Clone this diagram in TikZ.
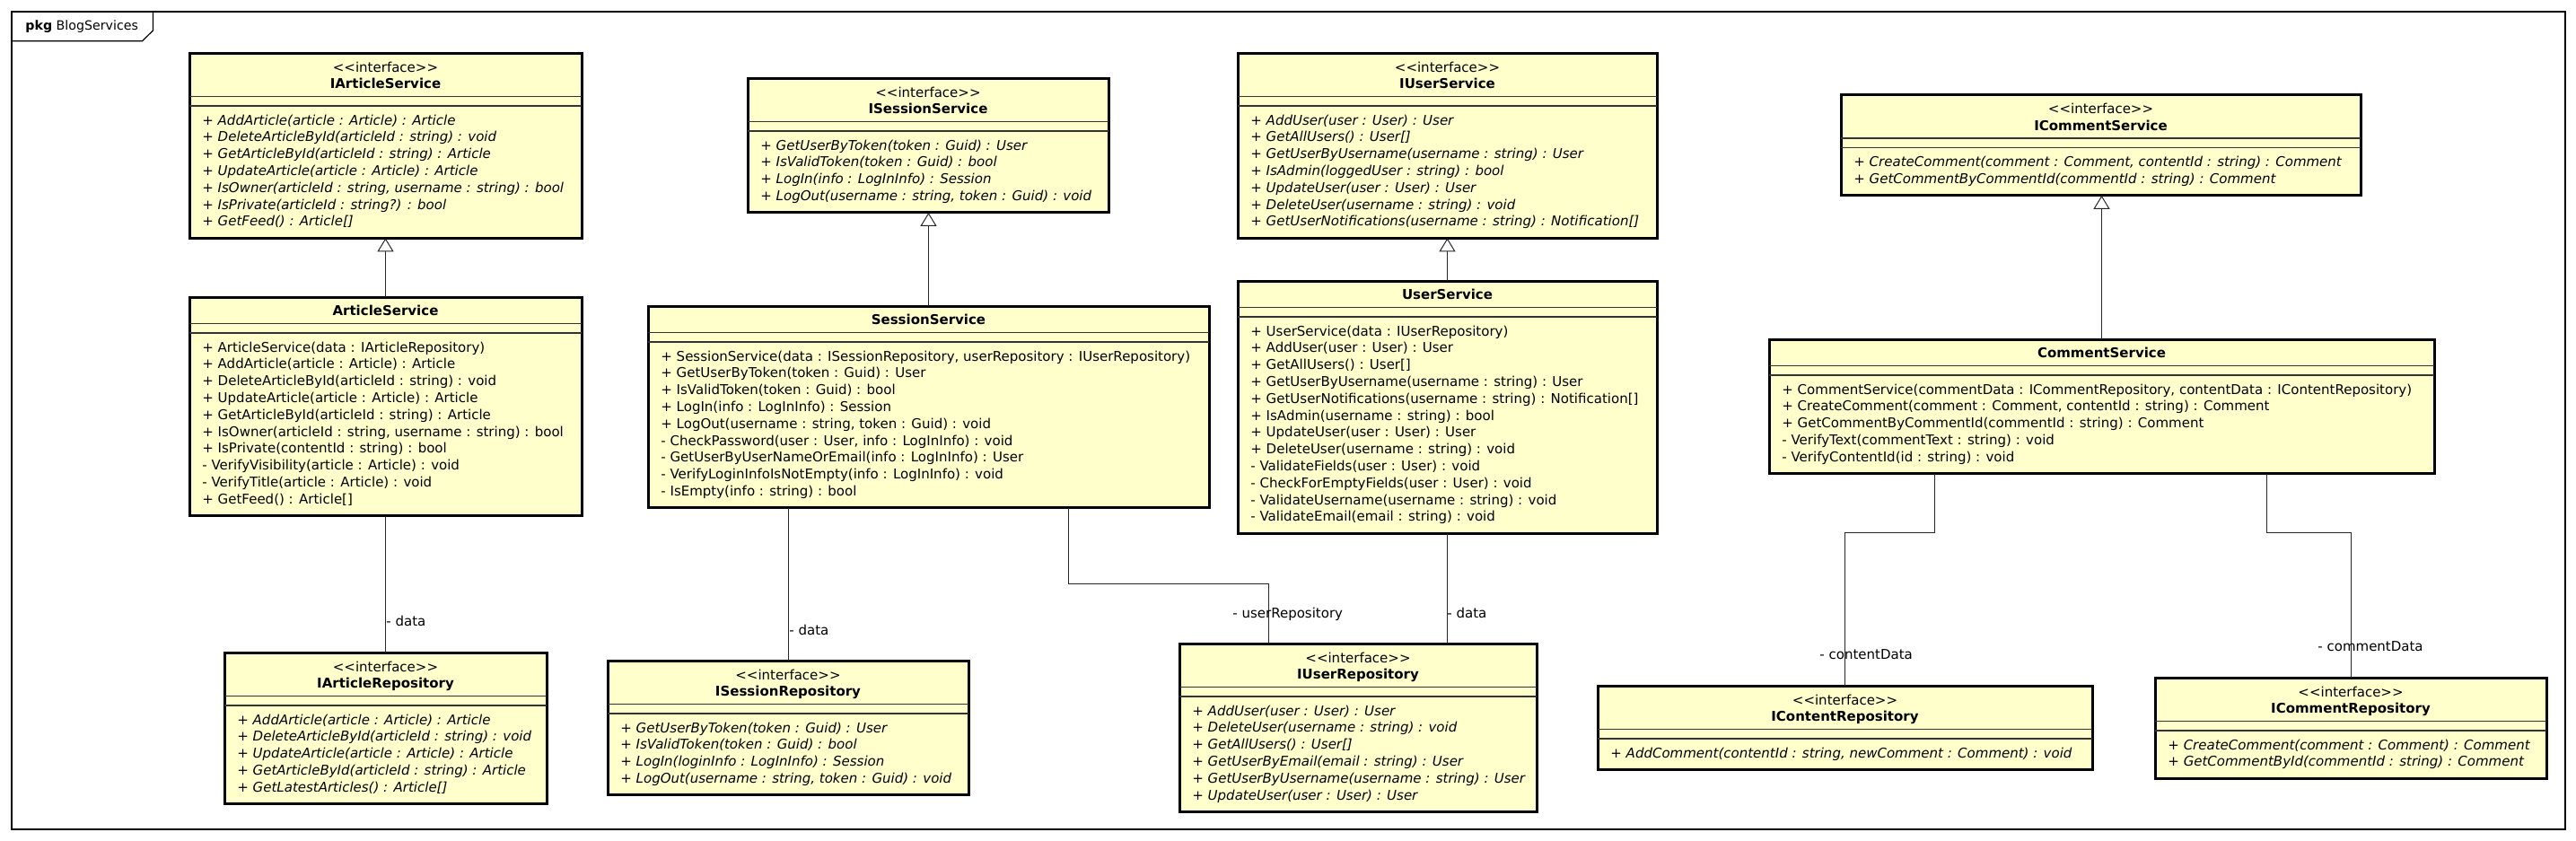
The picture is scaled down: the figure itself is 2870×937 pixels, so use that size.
\documentclass[tikz,border=0pt]{standalone}
\usepackage{fontspec}
\setmainfont{DejaVu Sans}
\usetikzlibrary{arrows.meta,calc}
\definecolor{umlyellow}{RGB}{255,255,204}
\tikzset{
  umlbox/.style={draw=black, line width=1.5pt, fill=umlyellow, inner sep=0pt, outer sep=0pt},
  divider/.style={draw=black!80, line width=0.6pt},
  basefont/.style={font=\fontsize{7.5}{9.4}\selectfont, inner sep=0pt},
  imeth/.style={font=\fontsize{7.5}{9.4}\selectfont\itshape, inner sep=0pt},
  cmeth/.style={basefont},
  stereo/.style={basefont},
  ctitle/.style={font=\fontsize{7.5}{9.4}\selectfont\bfseries, inner sep=0pt},
  lbl/.style={basefont},
  inherit/.style={draw=black!85, line width=0.5pt, -{Triangle[open,length=7.5pt,width=9pt]}},
  assoc/.style={draw=black!85, line width=0.5pt},
  frameline/.style={draw=black, line width=0.6pt}
}
% interface box: name, x1, x2, top, n, title, methods
\newcommand\uiface[7]{%
  \pgfmathsetmacro\bw{(#3-#2)/2}%
  \pgfmathsetmacro\bh{(93.5+(#5-1)*18.8)/2}%
  \node[umlbox, minimum width=\bw pt, minimum height=\bh pt, anchor=north west] (#1) at (#2,#4) {};
  \draw[divider] ([yshift=-24.25pt]#1.north west) -- ([yshift=-24.25pt]#1.north east);
  \draw[divider] ([yshift=-29.5pt]#1.north west) -- ([yshift=-29.5pt]#1.north east);
  \node[stereo, anchor=base] (#1-st) at ([yshift=-10.5pt]#1.north) {<{}<interface>{}>};
  \node[ctitle, anchor=base] (#1-t) at ([yshift=-19.75pt]#1.north) {#6};
  \foreach \mtxt [count=\k] in {#7} {
    \node[imeth, anchor=base west] (#1-m\k) at ([xshift=7pt, yshift={-40pt-(\k-1)*9.4pt}]#1.north west) {\mtxt};
  }
}
% class box: name, x1, x2, top, n, title, methods
\newcommand\uclass[7]{%
  \pgfmathsetmacro\bw{(#3-#2)/2}%
  \pgfmathsetmacro\bh{(74.5+(#5-1)*18.8)/2}%
  \node[umlbox, minimum width=\bw pt, minimum height=\bh pt, anchor=north west] (#1) at (#2,#4) {};
  \draw[divider] ([yshift=-14.75pt]#1.north west) -- ([yshift=-14.75pt]#1.north east);
  \draw[divider] ([yshift=-20pt]#1.north west) -- ([yshift=-20pt]#1.north east);
  \node[ctitle, anchor=base] (#1-t) at ([yshift=-10.25pt]#1.north) {#6};
  \foreach \mtxt [count=\k] in {#7} {
    \node[cmeth, anchor=base west] (#1-m\k) at ([xshift=7pt, yshift={-30.5pt-(\k-1)*9.4pt}]#1.north west) {\mtxt};
  }
}
\begin{document}
\begin{tikzpicture}[x=0.5pt,y=-0.5pt]
\useasboundingbox (0,0) rectangle (2870,937);
% package frame
\node[frameline, draw, inner sep=0pt, outer sep=0pt, minimum width=1422.5pt, minimum height=455.5pt, anchor=north west] (frame) at (13,13) {};
\draw[frameline] ([yshift=-16.35pt]frame.north west) -- ++(145.5,0) -- ++(12,-11.7) -- ++(0,-21);
\node[font=\fontsize{7.1}{9}\selectfont, inner sep=0pt, anchor=west] (pkglbl) at ([xshift=7.5pt, yshift=-8.5pt]frame.north west) {\textbf{pkg} BlogServices};

% Article
\uiface{ias}{211}{648}{59}{7}{IArticleService}{
  {+ AddArticle(article : Article) : Article},
  {+ DeleteArticleById(articleId : string) : void},
  {+ GetArticleById(articleId : string) : Article},
  {+ UpdateArticle(article : Article) : Article},
  {+ IsOwner(articleId : string, username : string) : bool},
  {+ IsPrivate(articleId : string?) : bool},
  {+ GetFeed() : Article[]}}
\uclass{as}{211}{648}{331}{10}{ArticleService}{
  {+ ArticleService(data : IArticleRepository)},
  {+ AddArticle(article : Article) : Article},
  {+ DeleteArticleById(articleId : string) : void},
  {+ UpdateArticle(article : Article) : Article},
  {+ GetArticleById(articleId : string) : Article},
  {+ IsOwner(articleId : string, username : string) : bool},
  {+ IsPrivate(contentId : string) : bool},
  {- VerifyVisibility(article : Article) : void},
  {- VerifyTitle(article : Article) : void},
  {+ GetFeed() : Article[]}}
\uiface{iar}{250}{609}{727}{5}{IArticleRepository}{
  {+ AddArticle(article : Article) : Article},
  {+ DeleteArticleById(articleId : string) : void},
  {+ UpdateArticle(article : Article) : Article},
  {+ GetArticleById(articleId : string) : Article},
  {+ GetLatestArticles() : Article[]}}

% Session
\uiface{iss}{833}{1235}{87}{4}{ISessionService}{
  {+ GetUserByToken(token : Guid) : User},
  {+ IsValidToken(token : Guid) : bool},
  {+ LogIn(info : LogInInfo) : Session},
  {+ LogOut(username : string, token : Guid) : void}}
\uclass{ss}{722}{1347}{341}{9}{SessionService}{
  {+ SessionService(data : ISessionRepository, userRepository : IUserRepository)},
  {+ GetUserByToken(token : Guid) : User},
  {+ IsValidToken(token : Guid) : bool},
  {+ LogIn(info : LogInInfo) : Session},
  {+ LogOut(username : string, token : Guid) : void},
  {- CheckPassword(user : User, info : LogInInfo) : void},
  {- GetUserByUserNameOrEmail(info : LogInInfo) : User},
  {- VerifyLoginInfoIsNotEmpty(info : LogInInfo) : void},
  {- IsEmpty(info : string) : bool}}
\uiface{isr}{677}{1079}{736}{4}{ISessionRepository}{
  {+ GetUserByToken(token : Guid) : User},
  {+ IsValidToken(token : Guid) : bool},
  {+ LogIn(loginInfo : LogInInfo) : Session},
  {+ LogOut(username : string, token : Guid) : void}}

% User
\uiface{ius}{1379}{1846}{59}{7}{IUserService}{
  {+ AddUser(user : User) : User},
  {+ GetAllUsers() : User[]},
  {+ GetUserByUsername(username : string) : User},
  {+ IsAdmin(loggedUser : string) : bool},
  {+ UpdateUser(user : User) : User},
  {+ DeleteUser(username : string) : void},
  {+ GetUserNotifications(username : string) : Notification[]}}
\uclass{us}{1379}{1846}{313}{12}{UserService}{
  {+ UserService(data : IUserRepository)},
  {+ AddUser(user : User) : User},
  {+ GetAllUsers() : User[]},
  {+ GetUserByUsername(username : string) : User},
  {+ GetUserNotifications(username : string) : Notification[]},
  {+ IsAdmin(username : string) : bool},
  {+ UpdateUser(user : User) : User},
  {+ DeleteUser(username : string) : void},
  {- ValidateFields(user : User) : void},
  {- CheckForEmptyFields(user : User) : void},
  {- ValidateUsername(username : string) : void},
  {- ValidateEmail(email : string) : void}}
\uiface{iur}{1314}{1712}{717}{6}{IUserRepository}{
  {+ AddUser(user : User) : User},
  {+ DeleteUser(username : string) : void},
  {+ GetAllUsers() : User[]},
  {+ GetUserByEmail(email : string) : User},
  {+ GetUserByUsername(username : string) : User},
  {+ UpdateUser(user : User) : User}}

% Comment
\uiface{ics}{2051}{2630}{105.5}{2}{ICommentService}{
  {+ CreateComment(comment : Comment, contentId : string) : Comment},
  {+ GetCommentByCommentId(commentId : string) : Comment}}
\uclass{cs}{1971}{2712}{378}{5}{CommentService}{
  {+ CommentService(commentData : ICommentRepository, contentData : IContentRepository)},
  {+ CreateComment(comment : Comment, contentId : string) : Comment},
  {+ GetCommentByCommentId(commentId : string) : Comment},
  {- VerifyText(commentText : string) : void},
  {- VerifyContentId(id : string) : void}}
\uiface{icr}{1780}{2331}{764}{1}{IContentRepository}{
  {+ AddComment(contentId : string, newComment : Comment) : void}}
\uiface{icmr}{2401}{2837}{755}{2}{ICommentRepository}{
  {+ CreateComment(comment : Comment) : Comment},
  {+ GetCommentById(commentId : string) : Comment}}

% generalizations
\draw[inherit] (as.north) -- (as.north |- ias.south);
\draw[inherit] (ss.north) -- (ss.north |- iss.south);
\draw[inherit] (us.north) -- (us.north |- ius.south);
\draw[inherit] (cs.north) -- (cs.north |- ics.south);

% associations
\draw[assoc] (as.south) -- (as.south |- iar.north);
\draw[assoc] (isr.north |- ss.south) -- (isr.north);
\draw[assoc] ($(ss.south)+(155.5,0)$) -- ++(0,85) -| ($(iur.north)+(-100,0)$);
\draw[assoc] (us.south) -- (us.south |- iur.north);
\draw[assoc] ($(cs.south)+(-186.5,0)$) -- ++(0,66) -| (icr.north);
\draw[assoc] ($(cs.south)+(183.5,0)$) -- ++(0,66) -| (icmr.north);

% role labels
\node[lbl, anchor=base west] (l-adata) at (430,697) {- data};
\node[lbl, anchor=base west] (l-sdata) at (879,707) {- data};
\node[lbl, anchor=base west] (l-urep) at (1373,688) {- userRepository};
\node[lbl, anchor=base west] (l-udata) at (1612,688) {- data};
\node[lbl, anchor=base west] (l-cdata) at (2027,734) {- contentData};
\node[lbl, anchor=base west] (l-cmdata) at (2582,725) {- commentData};
\end{tikzpicture}
\end{document}
